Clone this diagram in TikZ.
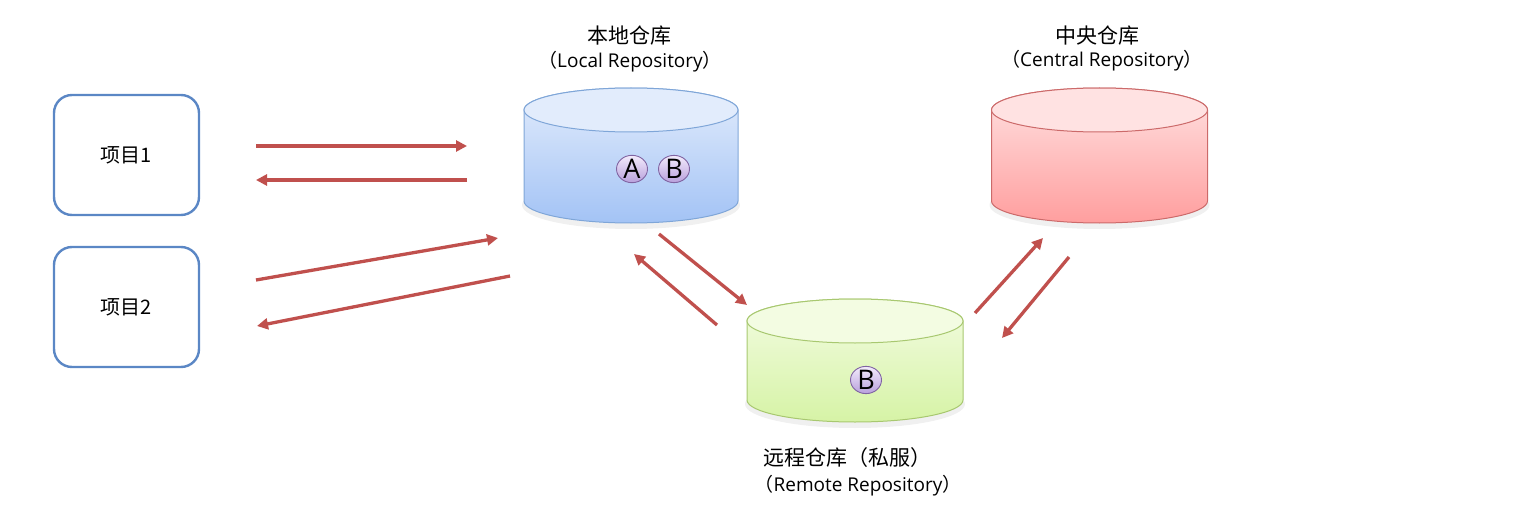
\documentclass[tikz,border=0pt]{standalone}
\usepackage{fontspec}
\setmainfont{Open Sans}
\newfontfamily\cjk{Noto Sans CJK SC}
\usetikzlibrary{arrows.meta,shapes.geometric}
\definecolor{arr}{HTML}{C0504D}
\definecolor{boxb}{HTML}{5B87C5}
\definecolor{blueT}{HTML}{E2ECFC}
\definecolor{blueB}{HTML}{A3C3F5}
\definecolor{blueL}{HTML}{7FA6D8}
\definecolor{redT}{HTML}{FFE2E2}
\definecolor{redB}{HTML}{FF9E9E}
\definecolor{redL}{HTML}{CC6A6A}
\definecolor{grnT}{HTML}{F3FCE2}
\definecolor{grnB}{HTML}{D6F3A6}
\definecolor{grnL}{HTML}{A8C870}
\definecolor{purT}{HTML}{F3EBFC}
\definecolor{purB}{HTML}{B8A0DC}
\definecolor{purL}{HTML}{8064A2}
\tikzset{
  proj/.style={draw=boxb, line width=2.4pt, rounded corners=18pt, minimum width=145pt, minimum height=120pt, font=\cjk\fontsize{20}{23}\selectfont},
  flow/.style={draw=arr, line width=3.3pt, -{Triangle[length=11pt,width=11pt]}},
  badge/.style={ellipse, draw=purL, line width=0.9pt, top color=purT, bottom color=purB, minimum width=31pt, minimum height=26pt, inner sep=0pt, font=\fontsize{27}{28}\selectfont},
  title/.style={font=\cjk\fontsize{21}{24}\selectfont, inner sep=0pt},
  sub/.style={font=\fontsize{19}{22}\selectfont, inner sep=0pt}
}
\newcommand{\drum}[8]{% cx, topy, boty, rx, ry, topcolor, botcolor, linecolor
  \fill[black!6] (#1,#3+4) ellipse[x radius=#4+2, y radius=#5+2];
  \shade[top color=#6, bottom color=#7, draw=#8, line width=1pt]
    (#1-#4,#2) -- (#1-#4,#3) arc[start angle=180,end angle=0,x radius=#4,y radius=#5]
    -- (#1+#4,#2) arc[start angle=0,end angle=-180,x radius=#4,y radius=#5] -- cycle;
  \fill[#6, draw=#8, line width=1pt] (#1,#2) ellipse[x radius=#4, y radius=#5];
}
\begin{document}
\begin{tikzpicture}[x=1pt,y=-1pt]
\useasboundingbox (0,0) rectangle (1531,516);
% cylinders
\drum{631}{110}{201}{107}{22}{blueT}{blueB}{blueL}
\drum{1099.5}{110}{201}{108}{22}{redT}{redB}{redL}
\drum{855}{321}{400}{108}{22}{grnT}{grnB}{grnL}
\node (local) at (631,155) {};
\node (central) at (1099.5,155) {};
\node (remote) at (855,360) {};
% badges
\node[badge] (bA) at (632,169) {A};
\node[badge] (bB) at (674,169) {B};
\node[badge] (bR) at (866,380) {B};
% titles
\node[title] (t1) at (629,36) {本地仓库};
\node[sub] (s1) at (630,62) {{\cjk （}Local Repository{\cjk ）}};
\node[title] (t2) at (1097,36) {中央仓库};
\node[sub] (s2) at (1102,61) {{\cjk （}Central Repository{\cjk ）}};
\node[title] (t3) at (847,458) {远程仓库（私服）};
\node[sub] (s3) at (858,486) {{\cjk （}Remote Repository{\cjk ）}};
% projects
\node[proj] (p1) at (126.5,155) {项目1};
\node[proj] (p2) at (126.5,307) {项目2};
% arrow end points
\coordinate (a1s) at (256,146); \coordinate (a1e) at (467,146);
\coordinate (a2s) at (467,180); \coordinate (a2e) at (256,180);
\coordinate (a3s) at (256,280); \coordinate (a3e) at (498,238);
\coordinate (a4s) at (510,276); \coordinate (a4e) at (257,326);
\coordinate (a5s) at (659,234); \coordinate (a5e) at (747,305);
\coordinate (a6s) at (717,325); \coordinate (a6e) at (634,254);
\coordinate (a7s) at (975,313); \coordinate (a7e) at (1043,238);
\coordinate (a8s) at (1069,257); \coordinate (a8e) at (1002,338);
\draw[flow] (a1s) -- (a1e);
\draw[flow] (a2s) -- (a2e);
\draw[flow] (a3s) -- (a3e);
\draw[flow] (a4s) -- (a4e);
\draw[flow] (a5s) -- (a5e);
\draw[flow] (a6s) -- (a6e);
\draw[flow] (a7s) -- (a7e);
\draw[flow] (a8s) -- (a8e);
\end{tikzpicture}
\end{document}
